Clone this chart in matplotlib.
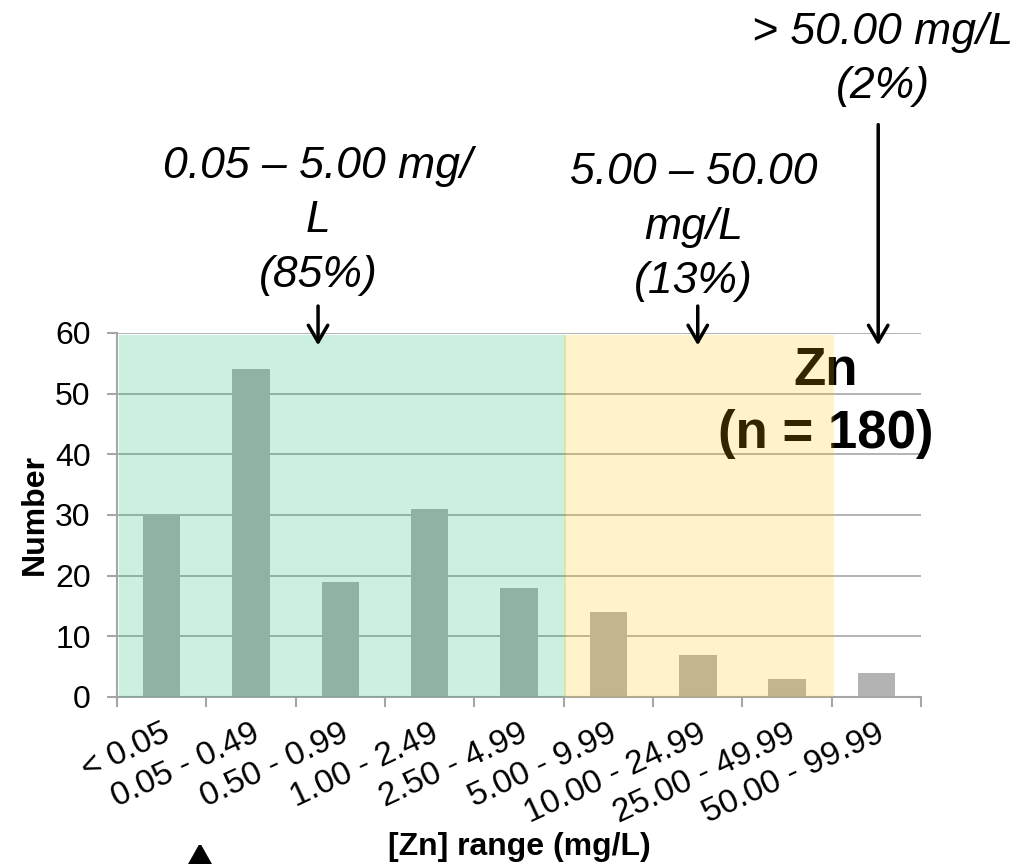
import matplotlib
matplotlib.use("Agg")
import matplotlib.pyplot as plt
from matplotlib.patches import Rectangle, FancyArrowPatch
import numpy as np

plt.rcParams["font.family"] = ["Liberation Sans", "DejaVu Sans"]

# -----------------------
# DATA
# -----------------------
ranges = ["< 0.05", "0.05 - 0.49", "0.50 - 0.99", "1.00 - 2.49", "2.50 - 4.99",
          "5.00 - 9.99", "10.00 - 24.99", "25.00 - 49.99", "50.00 - 99.99"]
counts = [30, 54, 19, 31, 18, 14, 7, 3, 4]

# shaded groups: (first index, last index, colour)
groups = [(0, 4, (0.0, 0.706, 0.373)), (5, 7, (1.0, 0.765, 0.0))]

# text, text x, baseline of last line, arrow x, arrow start y
notes = [
    ("0.05 – 5.00 mg/\nL\n(85%)", 1.75, 67.6, 1.75, 64.9),
    ("5.00 – 50.00\nmg/L\n(13%)", 5.95, 66.6, 6.0, 64.9),
    ("> 50.00 mg/L\n(2%)", 8.07, 98.7, 8.02, 94.8),
]

GRAY = "#A6A6A6"

fig = plt.figure(figsize=(10.34, 8.64), dpi=100)
ax = fig.add_axes([0.1132, 0.1933, 0.7776, 0.4213])

x = np.arange(len(ranges))
ax.bar(x, counts, width=0.42, color="#B3B3B3", zorder=2)

ax.set_xlim(-0.5, len(ranges) - 0.5)
ax.set_ylim(0, 60)
ax.set_yticks(np.arange(0, 61, 10))
ax.set_axisbelow(True)
ax.yaxis.grid(True, color="black", alpha=0.35, lw=1.2)

ax.set_xticks(x)
ax.set_xticklabels(ranges, rotation=25, ha="right", va="top", rotation_mode="anchor")
ax.set_xticks(np.arange(-0.5, len(ranges), 1.0), minor=True)
ax.tick_params(axis="x", which="major", length=0, pad=15, labelsize=24)
ax.tick_params(axis="x", which="minor", length=7, width=1.5, color=GRAY)
ax.tick_params(axis="y", length=7, width=1.5, color=GRAY, pad=12, labelsize=23)

for s in ["top", "right"]:
    ax.spines[s].set_visible(False)
for s in ["left", "bottom"]:
    ax.spines[s].set_color(GRAY)
    ax.spines[s].set_linewidth(1.5)

ax.set_ylabel("Number", fontsize=23, fontweight="bold", labelpad=4)
ax.set_xlabel("[Zn] range (mg/L)", fontsize=23, fontweight="bold", labelpad=2)

ax.text(7.43, 41.0, "Zn\n(n = 180)", ha="center", va="baseline", fontsize=38,
        fontweight="bold", linespacing=1.35, zorder=3)

# translucent group overlays, drawn over the grid, bars and label
for lo, hi, col in groups:
    left = lo - 0.48 if lo == 0 else lo - 0.5
    ax.add_patch(Rectangle((left, 0), hi + 0.52 - left, 59.6, facecolor=col,
                           alpha=0.2, edgecolor="none", zorder=4))

for txt, tx, ty, axx, ay in notes:
    ax.text(tx, ty, txt, ha="center", va="baseline", fontsize=32, style="italic",
            linespacing=1.42, clip_on=False, zorder=5)
    ax.annotate("", xy=(axx, 57.5), xytext=(axx, ay), annotation_clip=False,
                arrowprops=dict(arrowstyle="->,head_length=0.6,head_width=0.35",
                                mutation_scale=20, lw=2.5, color="black"), zorder=5)

# arrow entering from the bottom edge
fig.add_artist(FancyArrowPatch(
    (200 / 1034, -0.03), (200 / 1034, 24 / 864), transform=fig.transFigure,
    arrowstyle="-|>,head_length=0.8,head_width=0.45", mutation_scale=28,
    lw=3, color="black"))

fig.savefig("out.png", dpi=100)
